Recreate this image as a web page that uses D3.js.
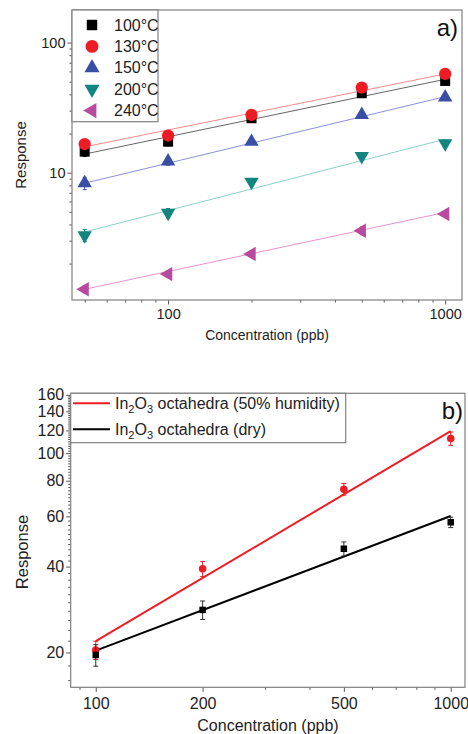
<!DOCTYPE html>
<html><head><meta charset="utf-8">
<script src="https://cdn.jsdelivr.net/npm/d3@7"></script>
<style>
body{margin:0;background:#fff;}
svg{display:block;font-family:"Liberation Sans",Arial,sans-serif;}
</style></head>
<body><svg id="c" width="468" height="734"></svg>
<script>
// ---------- Panel a data ----------
const concA = [50, 100, 200, 500, 1000];
const seriesA = ["100°C", "130°C", "150°C", "200°C", "240°C"];
const resp100 = [14.5, 17.3, 26.2, 40.8, 50.7];
const resp130 = [16.6, 19.3, 27.8, 45.1, 57.4];
const resp150 = [8.3, 12.2, 17.3, 27.8, 38.0];
const resp200 = [3.3, 4.9, 8.5, 13.4, 16.8];
const resp240 = [1.27, 1.66, 2.37, 3.58, 4.81];
const err100 = [1.2, 1.2, 1.0, 1.5, 1.5];
const err130 = [0.6, 0.6, 0.6, 1.0, 1.0];
const err150 = [0.9, 0.8, 0.6, 1.0, 1.5];
const err200 = [0.35, 0.4, 0.5, 0.7, 1.0];
const err240 = [0.08, 0.1, 0.1, 0.25, 0.2];
const fitA_lo = [13.9, 15.8, 8.3, 3.5, 1.27];   // fitted line value at 50 ppb
const fitA_hi = [52.2, 57.4, 38.4, 18.1, 4.95];  // fitted line value at 1000 ppb
const xTicksA = [100, 1000];
const yTicksA = [10, 100];

// ---------- Panel b data ----------
const concB = [100, 200, 500, 1000];
const seriesB = ["(50% humidity)", "(dry)"];
const respHum = [20.4, 39.3, 74.7, 112.5];
const respDry = [19.6, 28.2, 46.2, 57.2];
const errHum = [1.5, 2.4, 3.5, 6.0];
const errDry = [1.7, 2.1, 2.6, 2.4];
const fitB_lo = [21.9, 20.3];    // at 100 ppb
const fitB_hi = [119.4, 60.2];   // at 1000 ppb
const xTicksB = [100, 200, 500, 1000];
const yTicksB = [20, 40, 60, 80, 100, 120, 140, 160];

const svg = d3.select("#c");
const frameCol = "#808080";
const tickCol = "#555";

function drawAxes(g, x, y, opts) {
  const [x0, x1] = x.range(), [y1, y0] = y.range();
  g.append("g").attr("transform", `translate(0,${y1})`)
    .call(d3.axisBottom(x).tickValues(opts.xMinor).tickSize(2.5).tickFormat(""))
    .call(a => { a.select(".domain").remove(); a.selectAll("line").attr("stroke", tickCol); });
  g.append("g").attr("transform", `translate(0,${y1})`)
    .call(d3.axisBottom(x).tickValues(opts.xMajor).tickSize(4.5).tickPadding(opts.xPad).tickFormat(d3.format("d")))
    .call(a => { a.select(".domain").remove(); a.selectAll("line").attr("stroke", tickCol);
      a.selectAll("text").attr("fill", "#222").style("font-size", opts.fs + "px"); });
  g.append("g").attr("transform", `translate(${x0},0)`)
    .call(d3.axisLeft(y).tickValues(opts.yMinor).tickSize(2.5).tickFormat(""))
    .call(a => { a.select(".domain").remove(); a.selectAll("line").attr("stroke", tickCol); });
  g.append("g").attr("transform", `translate(${x0},0)`)
    .call(d3.axisLeft(y).tickValues(opts.yMajor).tickSize(4.5).tickPadding(opts.yPad).tickFormat(d3.format("d")))
    .call(a => { a.select(".domain").remove(); a.selectAll("line").attr("stroke", tickCol);
      a.selectAll("text").attr("fill", "#222").style("font-size", opts.fs + "px"); });
  g.append("rect").attr("x", x0).attr("y", y0).attr("width", x1 - x0).attr("height", y1 - y0)
    .attr("fill", "none").attr("stroke", frameCol).attr("stroke-width", 1.2);
}

// ================= Panel a =================
const xA = d3.scaleLog().domain([45, 1150]).range([72, 462]);
const yA = d3.scaleLog().domain([1.05, 178]).range([300, 10]);
const gA = svg.append("g");
const minorXA = [50,60,70,80,90,200,300,400,500,600,700,800,900];
const minorYA = [2,3,4,5,6,7,8,9,20,30,40,50,60,70,80,90];
drawAxes(gA, xA, yA, {xMinor: minorXA, xMajor: xTicksA, yMinor: minorYA, yMajor: yTicksA, fs: 14.5, xPad: 4, yPad: 2});

const dataA = [resp100, resp130, resp150, resp200, resp240];
const errA = [err100, err130, err150, err200, err240];
const colA = ["#000000", "#ee1c25", "#3a4fa3", "#13857f", "#b84b9e"];
const lineColA = ["#666666", "#f28b8b", "#8c92d4", "#8fcfca", "#e294d2"];
const symA = [
  {t: d3.symbolSquare, s: 100, r: 0},
  {t: d3.symbolCircle, s: 118, r: 0},
  {t: d3.symbolTriangle, s: 90, r: 0},
  {t: d3.symbolTriangle, s: 90, r: 180},
  {t: d3.symbolTriangle, s: 90, r: -90}
];
[4,3,2,0,1].forEach(i => {
  gA.append("line").attr("x1", xA(concA[0])).attr("x2", xA(concA[4]))
    .attr("y1", yA(fitA_lo[i])).attr("y2", yA(fitA_hi[i]))
    .attr("stroke", lineColA[i]).attr("stroke-width", 1);
});
[4,3,2,0,1].forEach(i => {
  const g = gA.append("g");
  concA.forEach((c, j) => {
    const v = dataA[i][j], e = errA[i][j];
    g.append("path").attr("d", d3.symbol().type(symA[i].t).size(symA[i].s)())
      .attr("transform", `translate(${xA(c)},${yA(v)}) rotate(${symA[i].r})`)
      .attr("fill", colA[i]);
    g.append("line").attr("x1", xA(c)).attr("x2", xA(c))
      .attr("y1", yA(v - e)).attr("y2", yA(v + e)).attr("stroke", colA[i]).attr("stroke-width", 1);
    [v - e, v + e].forEach(w => g.append("line").attr("x1", xA(c) - 2).attr("x2", xA(c) + 2)
      .attr("y1", yA(w)).attr("y2", yA(w)).attr("stroke", colA[i]).attr("stroke-width", 1));
  });
});
// legend a
const legA = gA.append("g");
legA.append("rect").attr("x", 72).attr("y", 10).attr("width", 86).attr("height", 111.7)
  .attr("fill", "#fff").attr("stroke", frameCol).attr("stroke-width", 1.2);
seriesA.forEach((s, i) => {
  const yy = 25 + i * 21.4;
  legA.append("path").attr("d", d3.symbol().type(symA[i].t).size(symA[i].s * 1.1)())
    .attr("transform", `translate(92,${yy}) rotate(${symA[i].r})`).attr("fill", colA[i]);
  legA.append("text").attr("x", 114).attr("y", yy + 5.5).style("font-size", "16px").attr("fill", "#222").text(s);
});
gA.append("text").attr("x", 458).attr("y", 36).attr("text-anchor", "end").style("font-size", "24px").attr("fill", "#111").text("a)");
gA.append("text").attr("x", 267).attr("y", 340).attr("text-anchor", "middle").style("font-size", "14px").attr("fill", "#222").text("Concentration (ppb)");
gA.append("text").attr("transform", "translate(26,155) rotate(-90)").attr("text-anchor", "middle").style("font-size", "15px").attr("fill", "#222").text("Response");

// ================= Panel b =================
const xB = d3.scaleLog().domain([85, 1097]).range([70.7, 465]);
const yB = d3.scaleLog().domain([15.1, 162]).range([687.3, 393.3]);
const gB = svg.append("g");
const minorXB = [90, 300, 400, 600, 700, 800, 900];
const minorYB = d3.range(16, 161, 2).filter(v => !yTicksB.includes(v));
drawAxes(gB, xB, yB, {xMinor: minorXB, xMajor: xTicksB, yMinor: minorYB, yMajor: yTicksB, fs: 16, xPad: 6, yPad: 2});

const dataB = [respHum, respDry];
const errB = [errHum, errDry];
const colB = ["#ee1c25", "#000000"];
const symB = [{t: d3.symbolCircle, s: 45}, {t: d3.symbolSquare, s: 42}];
[1, 0].forEach(i => {
  gB.append("line").attr("x1", xB(concB[0])).attr("x2", xB(concB[3]))
    .attr("y1", yB(fitB_lo[i])).attr("y2", yB(fitB_hi[i]))
    .attr("stroke", colB[i]).attr("stroke-width", 2);
});
[0, 1].forEach(i => {
  const g = gB.append("g");
  concB.forEach((c, j) => {
    const v = dataB[i][j], e = errB[i][j];
    g.append("line").attr("x1", xB(c)).attr("x2", xB(c))
      .attr("y1", yB(v - e)).attr("y2", yB(v + e)).attr("stroke", i === 0 ? "#ee1c25" : "#333").attr("stroke-width", 1);
    [v - e, v + e].forEach(w => g.append("line").attr("x1", xB(c) - 2.5).attr("x2", xB(c) + 2.5)
      .attr("y1", yB(w)).attr("y2", yB(w)).attr("stroke", i === 0 ? "#ee1c25" : "#333").attr("stroke-width", 1));
    g.append("path").attr("d", d3.symbol().type(symB[i].t).size(symB[i].s)())
      .attr("transform", `translate(${xB(c)},${yB(v)})`).attr("fill", colB[i]);
  });
});
// legend b
const legB = gB.append("g");
legB.append("rect").attr("x", 70.7).attr("y", 393.3).attr("width", 275).attr("height", 49.4)
  .attr("fill", "#fff").attr("stroke", frameCol).attr("stroke-width", 1.2);
seriesB.forEach((s, i) => {
  const yy = 403.3 + i * 26;
  legB.append("line").attr("x1", 73).attr("x2", 110).attr("y1", yy).attr("y2", yy)
    .attr("stroke", colB[i]).attr("stroke-width", 2);
  const t = legB.append("text").attr("x", 115).attr("y", yy + 5.5).style("font-size", "16px").attr("fill", "#222");
  t.append("tspan").text("In");
  t.append("tspan").attr("dy", 4).style("font-size", "11px").text("2");
  t.append("tspan").attr("dy", -4).text("O");
  t.append("tspan").attr("dy", 4).style("font-size", "11px").text("3");
  t.append("tspan").attr("dy", -4).text(" octahedra " + s);
});
gB.append("text").attr("x", 463).attr("y", 419).attr("text-anchor", "end").style("font-size", "24px").attr("fill", "#111").text("b)");
gB.append("text").attr("transform", "translate(28,552) rotate(-90)").attr("text-anchor", "middle").style("font-size", "16.5px").attr("fill", "#222").text("Response");
gB.append("text").attr("x", 268).attr("y", 731).attr("text-anchor", "middle").style("font-size", "16px").attr("fill", "#222").text("Concentration (ppb)");
</script></body></html>
